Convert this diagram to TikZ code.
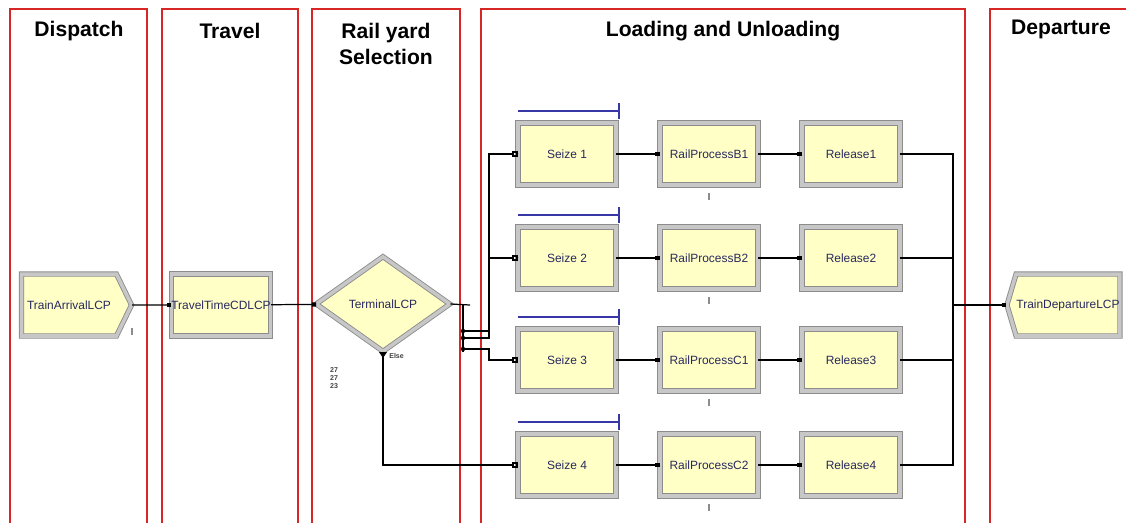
\documentclass[tikz,border=0pt]{standalone}
\usepackage{fontspec}
\setmainfont{Liberation Sans}
\usetikzlibrary{shapes.geometric,shapes.symbols,arrows.meta}
\definecolor{framecolor}{RGB}{214, 38, 38}
\definecolor{modfill}{RGB}{255, 255, 198}
\definecolor{bevelcolor}{RGB}{140, 140, 140}
\definecolor{labelcolor}{RGB}{40, 40, 95}
\definecolor{queuecolor}{RGB}{55, 55, 165}

\begin{document}
\begin{tikzpicture}[x=0.02cm, y=-0.02cm,
    lane/.style={draw=framecolor, line width=1.1pt},
    lanetitle/.style={font=\fontsize{12}{15}\selectfont\bfseries, align=center},
    module/.style={draw=bevelcolor, line width=0.5pt, double=black!22, double distance=2pt, fill=modfill, inner sep=0pt, text=labelcolor, font=\fontsize{6.8}{8}\selectfont},
    box/.style={module, rectangle, minimum width=1.96cm, minimum height=1.24cm},
    link/.style={-{Square[length=2.4pt,width=2.4pt]}, line width=0.7pt},
    seizelink/.style={line width=0.7pt, -{Square[open,length=3pt,width=3pt]}},
    queue/.style={draw=queuecolor, line width=0.7pt},
    marker/.style={draw=black!45, line width=0.9pt},
    smalltext/.style={font=\fontsize{4}{4.6}\selectfont\bfseries, text=black!75, inner sep=0pt, align=center}
]
    \useasboundingbox (0,0) rectangle (1126,522);
    \clip (0,0) rectangle (1126,522);

    % Lanes
    \draw[lane] (10,9) rectangle (147,540);
    \draw[lane] (162,9) rectangle (298,540);
    \draw[lane] (312,9) rectangle (460,540);
    \draw[lane] (481,9) rectangle (965,540);
    \draw[lane] (990,9) rectangle (1140,540);

    \node[lanetitle] (t1) at (79,31) {Dispatch};
    \node[lanetitle] (t2) at (230,31) {Travel};
    \node[lanetitle] (t3) at (386,44) {Rail yard\\Selection};
    \node[lanetitle] (t4) at (723,31) {Loading and Unloading};
    \node[lanetitle] (t5) at (1061,29) {Departure};

    % Dispatch, travel and yard choice
    \node[module, signal, signal to=east, signal pointer angle=128, minimum width=2.2cm, minimum height=1.24cm] (arrive) at (69,305) {TrainArrivalLCP};
    \node[box] (travel) at (221,305) {TravelTimeCDLCP};
    \node[module, diamond, aspect=1.41, minimum width=2.68cm, minimum height=1.9cm] (term) at (383,304) {TerminalLCP};
    \node[module, signal, signal to=west, signal pointer angle=147, minimum width=2.26cm, minimum height=1.24cm] (depart) at (1068,305) {TrainDepartureLCP};

    \draw[marker] (132,328) -- (132,335);
    \draw[link] (arrive) -- (travel);
    \draw[link] (travel) -- (term);

    % Exit points of the decision
    \coordinate (ex1) at (463,331);
    \coordinate (ex2) at (463,338);
    \coordinate (ex3) at (463,349);
    \draw[line width=0.7pt] (term.east) -- (470,305);
    \draw[line width=0.7pt] (463,305) -- (463,352);
    \foreach \e in {ex1,ex2,ex3}
        \fill (\e) circle (2.2);
    \fill (379,352) -- (387,352) -- (383,358) -- cycle;
    \node[smalltext, anchor=west] (elselbl) at (389,356) {Else};
    \node[smalltext] (counts) at (334,378) {27\\27\\23};

    % Loading and unloading rows
    \foreach \r/\y/\p in {1/154/B1, 2/258/B2, 3/360/C1, 4/465/C2}{
        \node[box] (seize\r) at (567,\y) {Seize \r};
        \node[box] (proc\r) at (709,\y) {RailProcess\p};
        \node[box] (rel\r) at (851,\y) {Release\r};
        \draw[queue] (518,\y-43) -- (619,\y-43);
        \draw[queue] (619,\y-51) -- (619,\y-35);
        \draw[marker] (709,\y+39) -- (709,\y+46);
        \draw[link] (seize\r) -- (proc\r);
        \draw[link] (proc\r) -- (rel\r);
    }

    \draw[seizelink] (ex1) -- (489,331) |- (seize1.west);
    \draw[seizelink] (ex2) -- (489,338) |- (seize2.west);
    \draw[seizelink] (ex3) -- (489,349) |- (seize3.west);
    \draw[seizelink] (term.south) |- (seize4.west);

    % Departure
    \coordinate (merge) at (953,305);
    \foreach \r in {1,...,4}
        \draw[line width=0.7pt] (rel\r.east) -| (merge);
    \draw[link] (merge) -- (depart.west);
\end{tikzpicture}
\end{document}
